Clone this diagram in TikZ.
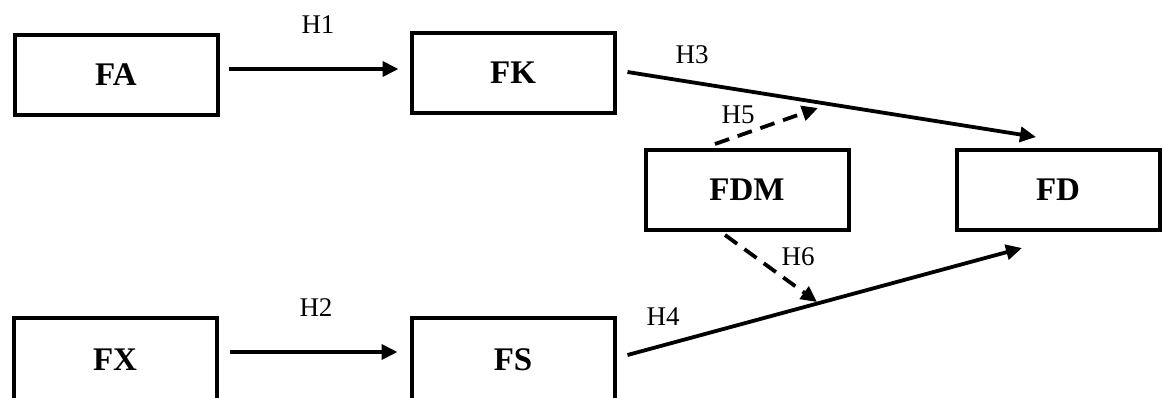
\documentclass[tikz,border=0pt]{standalone}
\usepackage{fontspec}
\setmainfont{Liberation Serif}
\usetikzlibrary{arrows.meta}

\tikzset{
  varbox/.style={draw, line width=4pt, minimum width=203pt, minimum height=80pt,
    inner sep=0pt, outer sep=0pt, font=\fontsize{33}{40}\selectfont\bfseries},
  hyp/.style={font=\fontsize{27}{32}\selectfont, inner sep=0pt},
  arr/.style={line width=3.8pt, -{Triangle[length=16pt,width=15pt]}},
  darr/.style={arr, dash pattern=on 15pt off 9pt},
}

\begin{document}
\begin{tikzpicture}[x=1pt, y=-1pt]
  \useasboundingbox (0,0) rectangle (1164,397);

  % variables
  \node[varbox] (FA)  at (116,75)   {FA};
  \node[varbox] (FK)  at (513,73)   {FK};
  \node[varbox] (FDM) at (747,190)  {FDM};
  \node[varbox] (FD)  at (1058,190) {FD};
  \node[varbox, minimum height=84pt] (FX) at (115,360) {FX};
  \node[varbox, minimum height=84pt] (FS) at (513,360) {FS};

  % moderation targets on the two direct paths
  \coordinate (m5) at (818,108);
  \coordinate (m6) at (817,302);

  % direct paths
  \draw[arr] ([xshift=11pt,yshift=6pt]FA.east) -- ([xshift=-13pt,yshift=4pt]FK.west);
  \draw[arr] ([xshift=13pt,yshift=8pt]FX.east) -- ([xshift=-14pt,yshift=8pt]FS.west);
  \draw[arr] ([xshift=13pt,yshift=1pt]FK.east) -- ([xshift=-22pt,yshift=13pt]FD.north);
  \draw[arr] ([xshift=13pt,yshift=5pt]FS.east) -- ([xshift=-36pt,yshift=-18pt]FD.south);

  % moderating paths
  \draw[darr] ([xshift=-32pt,yshift=6pt]FDM.north) -- (m5);
  \draw[darr] ([xshift=-22pt,yshift=-5pt]FDM.south) -- (m6);

  % hypothesis labels
  \node[hyp] (h1) at (318,25)  {H1};
  \node[hyp] (h2) at (316,308) {H2};
  \node[hyp] (h3) at (692,55)  {H3};
  \node[hyp] (h4) at (663,317) {H4};
  \node[hyp] (h5) at (738,115) {H5};
  \node[hyp] (h6) at (798,257) {H6};
\end{tikzpicture}
\end{document}
